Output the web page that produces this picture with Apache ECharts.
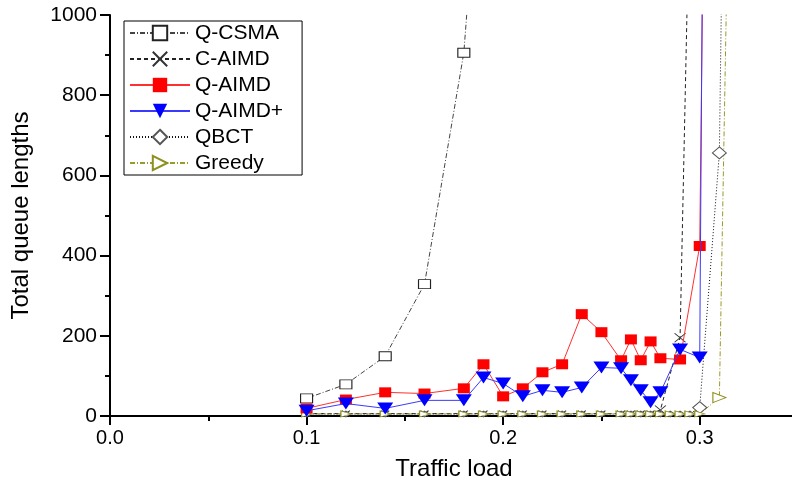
<!DOCTYPE html>
<html>
	<head>
		<meta charset="utf-8">
		<style>
			html,body{margin:0;padding:0;background:#fff;}
			#chart{width:792px;height:482px;}
		</style>
		<script src="https://cdn.jsdelivr.net/npm/echarts@6/dist/echarts.min.js"></script>
	</head>
	<body>
		<div id="chart"></div>
		<script>
		// traffic load values (x) and total queue lengths (y) for each scheme
		var csmaX = [0.1, 0.12, 0.14, 0.16, 0.18, 0.19];
		var csmaY = [44, 79, 149, 329, 906, 1550];

		var lowX = [0.1, 0.12, 0.14, 0.16, 0.18, 0.19, 0.2, 0.21, 0.22, 0.23, 0.24, 0.25, 0.26, 0.265, 0.27, 0.275, 0.28];
		var caimdX = lowX.concat([0.29, 0.3]);
		var caimdY = [6, 6, 6, 6, 6, 6, 6, 6, 6, 6, 6, 6, 6, 6, 6, 6, 15, 195, 2500];

		var aimdX = [0.1, 0.12, 0.14, 0.16, 0.18, 0.19, 0.2, 0.21, 0.22, 0.23, 0.24, 0.25, 0.26, 0.265, 0.27, 0.275, 0.28, 0.29, 0.3, 0.305];
		var aimdY = [19, 41, 59, 56, 69, 129, 49, 69, 109, 129, 254, 209, 139, 191, 139, 186, 144, 141, 424, 2600];

		var aimdPlusX = [0.1, 0.12, 0.14, 0.16, 0.18, 0.19, 0.2, 0.21, 0.22, 0.23, 0.24, 0.25, 0.26, 0.265, 0.27, 0.275, 0.28, 0.29, 0.3, 0.305];
		var aimdPlusY = [13, 31, 19, 39, 39, 96, 81, 49, 64, 59, 71, 121, 119, 89, 64, 34, 59, 166, 146, 3700];

		var qbctX = lowX.concat([0.285, 0.29, 0.295, 0.3, 0.31, 0.32]);
		var qbctY = [5, 5, 5, 5, 5, 5, 5, 5, 5, 5, 5, 5, 5, 5, 5, 5, 5, 5, 5, 5, 21, 656, 4300];

		var greedyX = lowX.concat([0.285, 0.29, 0.295, 0.3, 0.31, 0.32]);
		var greedyY = [5, 5, 5, 5, 5, 5, 5, 5, 5, 5, 5, 5, 5, 5, 5, 5, 5, 5, 5, 5, 5, 46, 2800];

		var xTicks = [0, 0.1, 0.2, 0.3];
		var yTicks = [0, 200, 400, 600, 800, 1000];

		function pairs(xs, ys){
			var out = [];
			for(var i = 0; i < xs.length; i++){
				out.push([xs[i], ys[i]]);
			}
			return out;
		}

		// markers sitting on the baseline are drawn smaller, as in the original plot
		function sizer(small, big){
			return function(v){ return v[1] < 12 ? small : big; };
		}

		var font = 'Liberation Sans, Arial, sans-serif';
		var crossPath = 'path://M0,0L10,10M10,0L0,10';

		var chart = echarts.init(document.getElementById('chart'), null, {renderer: 'canvas'});
		var option = {
			backgroundColor: '#fff',
			animation: false,
			textStyle: {fontFamily: font},
			grid: {left: 110, top: 15, right: -6, bottom: 66, containLabel: false, outerBoundsMode: 'none'},
			legend: {
				orient: 'vertical',
				left: 124,
				top: 21,
				padding: [1, 19, 1, 5],
				itemWidth: 60,
				itemHeight: 18,
				itemGap: 4,
				backgroundColor: '#fff',
				borderColor: '#000',
				borderWidth: 1,
				borderRadius: 0,
				textStyle: {fontSize: 21, lineHeight: 22, color: '#000', fontFamily: font},
				data: ['Q-CSMA', 'C-AIMD', 'Q-AIMD', 'Q-AIMD+', 'QBCT', 'Greedy']
			},
			xAxis: [
				{
					type: 'value',
					min: 0,
					max: 0.35,
					interval: 0.1,
					position: 'bottom',
					name: 'Traffic load',
					nameLocation: 'middle',
					nameGap: 41,
					nameTextStyle: {fontSize: 24, color: '#000', fontFamily: font},
					axisLine: {lineStyle: {color: '#000', width: 2}},
					axisTick: {length: 9, lineStyle: {color: '#000', width: 2}},
					axisLabel: {
						fontSize: 20, color: '#000', margin: 12, showMaxLabel: false,
						formatter: function(v){
							return xTicks.indexOf(Math.round(v * 100) / 100) >= 0 ? v.toFixed(1) : '';
						}
					},
					splitLine: {show: false}
				},
				{
					type: 'value',
					min: 0,
					max: 0.35,
					interval: 0.05,
					position: 'bottom',
					axisLine: {show: false},
					axisTick: {length: 5, lineStyle: {color: '#000', width: 2}},
					axisLabel: {show: false},
					splitLine: {show: false}
				}
			],
			yAxis: {
				type: 'value',
				min: 0,
				max: 1000,
				interval: 200,
				name: 'Total queue lengths',
				nameLocation: 'middle',
				nameRotate: 90,
				nameGap: 77,
				nameTextStyle: {fontSize: 24, color: '#000', fontFamily: font},
				axisLine: {show: true, lineStyle: {color: '#000', width: 2}},
				axisTick: {show: true, length: 10, lineStyle: {color: '#000', width: 2}},
				minorTick: {show: true, splitNumber: 2, length: 5, lineStyle: {color: '#000', width: 2}},
				axisLabel: {
					fontSize: 21, color: '#000', margin: 13,
					formatter: function(v){ return yTicks.indexOf(v) >= 0 ? String(v) : ''; }
				},
				splitLine: {show: false}
			},
			series: [
				{
					name: 'Q-CSMA', type: 'line', data: pairs(csmaX, csmaY),
					symbol: 'rect', symbolSize: [12, 9], showSymbol: true, z: 3,
					itemStyle: {color: '#fff', borderColor: '#222', borderWidth: 1},
					lineStyle: {color: '#444', width: 1, type: [5, 2, 1, 2]}
				},
				{
					name: 'C-AIMD', type: 'line', data: pairs(caimdX, caimdY),
					symbol: crossPath, symbolSize: sizer([8, 6], [11, 9]), showSymbol: true, z: 3,
					itemStyle: {color: 'rgba(0,0,0,0)', borderColor: '#333', borderWidth: 1},
					lineStyle: {color: '#222', width: 1, type: [4, 3]}
				},
				{
					name: 'Q-AIMD', type: 'line', data: pairs(aimdX, aimdY),
					symbol: 'rect', symbolSize: [12, 10], showSymbol: true, z: 4,
					itemStyle: {color: '#ff0000'},
					lineStyle: {color: '#ff3030', width: 1}
				},
				{
					name: 'Q-AIMD+', type: 'line', data: pairs(aimdPlusX, aimdPlusY),
					symbol: 'triangle', symbolRotate: 180, symbolSize: [16, 12], showSymbol: true, z: 5,
					itemStyle: {color: '#0000ff'},
					lineStyle: {color: '#3a3aff', width: 1}
				},
				{
					name: 'QBCT', type: 'line', data: pairs(qbctX, qbctY),
					symbol: 'diamond', symbolSize: sizer([9, 6], [14, 12]), showSymbol: true, z: 3,
					itemStyle: {color: '#fff', borderColor: '#555', borderWidth: 1},
					lineStyle: {color: '#111', width: 1, type: [1, 2]}
				},
				{
					name: 'Greedy', type: 'line', data: pairs(greedyX, greedyY),
					symbol: 'triangle', symbolRotate: -90, symbolSize: sizer([6, 10], [10, 13]), showSymbol: true, z: 3,
					itemStyle: {color: '#fff', borderColor: '#8f8f20', borderWidth: 1},
					lineStyle: {color: '#9a9a2a', width: 1, type: [5, 2, 1, 2]}
				}
			]
		};
		chart.setOption(option);
		</script>
	</body>
</html>
